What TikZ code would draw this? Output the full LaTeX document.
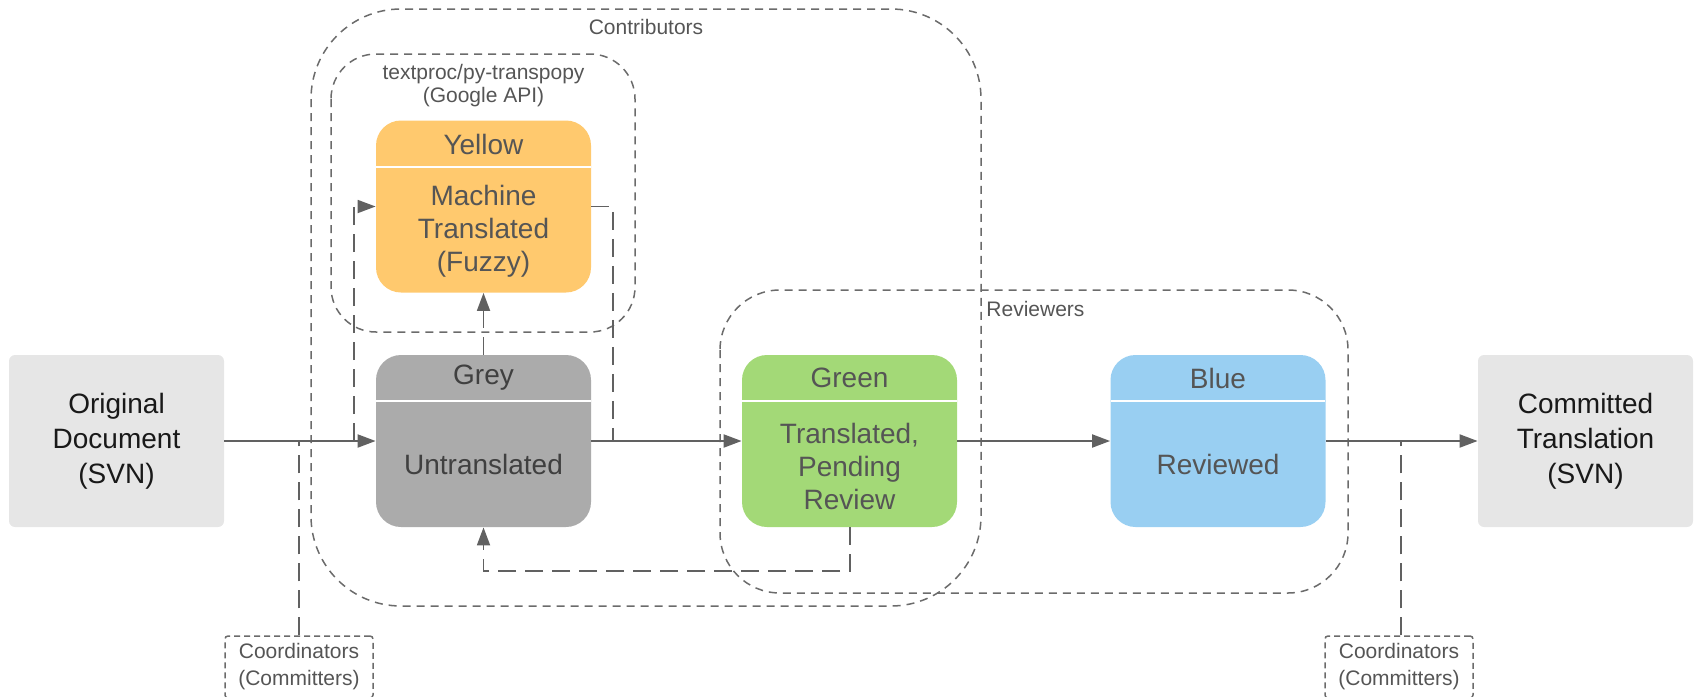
\documentclass[tikz,border=0pt]{standalone}
\usepackage{fontspec}
\setmainfont{Liberation Sans}
\usetikzlibrary{arrows.meta,calc}
\definecolor{lightbox}{HTML}{E6E6E6}
\definecolor{greyfill}{HTML}{ABABAB}
\definecolor{yellowfill}{HTML}{FFC96E}
\definecolor{greenfill}{HTML}{A3D977}
\definecolor{bluefill}{HTML}{99CFF2}
\definecolor{linec}{HTML}{616161}
\definecolor{txt}{HTML}{555555}
\definecolor{dashc}{HTML}{6B6B6B}
\tikzset{
 statebox/.style={rounded corners=12.5pt, minimum width=107.5pt, minimum height=86pt, inner sep=0pt},
 svnbox/.style={fill=lightbox, rounded corners=3pt, minimum width=107.5pt, minimum height=86pt, align=center, inner sep=0pt, font=\fontsize{14}{17.5}\selectfont, text=black!90},
 hdrtext/.style={font=\fontsize{14}{17}\selectfont, text=txt, inner sep=0pt},
 bodytext/.style={font=\fontsize{14}{16.5}\selectfont, text=txt, align=center, inner sep=0pt},
 grouplbl/.style={font=\fontsize{10.5}{11.5}\selectfont, text=txt, align=center, inner sep=0pt},
 coordbox/.style={draw=dashc, line width=0.75pt, dash pattern=on 3pt off 2pt, rounded corners=1.5pt, minimum width=74pt, minimum height=31pt, inner sep=0pt, align=center, text=txt, font=\fontsize{10.5}{13.5}\selectfont},
 groupbox/.style={draw=dashc, line width=0.75pt, dash pattern=on 4pt off 3pt},
 conn/.style={draw=linec, line width=1pt, -{Triangle[length=9pt,width=6.5pt]}},
 dconn/.style={draw=linec, line width=0.9pt, dash pattern=on 9pt off 4.5pt},
 darrow/.style={-{Triangle[length=9pt,width=6.5pt]}},
 hline/.style={draw=white, line width=0.8pt},
}
\begin{document}
\begin{tikzpicture}[x=0.5pt,y=-0.5pt]
\useasboundingbox (0,0) rectangle (1696,696);
% groups
\draw[groupbox, rounded corners=45pt] (311,9) rectangle (981,606);
\draw[groupbox, rounded corners=22.5pt] (331,54) rectangle (635,332);
\draw[groupbox, rounded corners=30pt] (720,290) rectangle (1348,593);
\node[grouplbl] (lcontrib) at (646,27) {Contributors};
\node[grouplbl] (ltextproc) at (483.5,85.5) {textproc/py-transpopy\\(Google API)};
\node[grouplbl, anchor=west] (lreview) at (986,309) {Reviewers};
% svn boxes
\node[svnbox] (orig) at (116.5,441) {Original\\Document\\(SVN)};
\node[svnbox] (commit) at (1585.5,441) {Committed\\Translation\\(SVN)};
% state boxes
\node[statebox, fill=greyfill] (grey) at (483.5,441) {};
\node[statebox, fill=yellowfill] (yellow) at (483.5,206.5) {};
\node[statebox, fill=greenfill] (green) at (849.5,441) {};
\node[statebox, fill=bluefill] (blue) at (1218,441) {};
\draw[hline] (376,401) -- (591,401);
\draw[hline] (376,167) -- (591,167);
\draw[hline] (742,401) -- (957,401);
\draw[hline] (1111,401) -- (1325,401);
\node[hdrtext, text=black!75] (greyh) at (483.5,378) {Grey};
\node[bodytext, text=black!75] (greyb) at (483.5,464) {Untranslated};
\node[hdrtext] (yellowh) at (483.5,144) {Yellow};
\node[bodytext] (yellowb) at (483.5,231) {Machine\\Translated\\(Fuzzy)};
\node[hdrtext] (greenh) at (849.5,378) {Green};
\node[bodytext] (greenb) at (849.5,466) {Translated,\\Pending\\Review};
\node[hdrtext] (blueh) at (1218,378) {Blue};
\node[bodytext] (blueb) at (1218,464) {Reviewed};
% coordinators
\node[coordbox] (coordl) at (299,667) {Coordinators\\(Committers)};
\node[coordbox] (coordr) at (1399,667) {Coordinators\\(Committers)};
% main connectors
\draw[conn] (orig) -- (grey);
\draw[conn] (grey) -- (green);
\draw[conn] (green) -- (blue);
\draw[conn] (blue) -- (commit);
% dashed connectors
\coordinate (b1) at (354,441);
\coordinate (m1) at (613,441);
\coordinate (g1) at (850,527);
\coordinate (g2) at (850,571);
\coordinate (cl) at (299,441);
\coordinate (cr) at (1401,441);
\draw[dconn, darrow] (b1) |- (yellow.west);
\draw[dconn, darrow] (grey.north) -- (yellow.south);
\draw[dconn] (yellow.east) -| (m1);
\draw[dconn, darrow] (g1) -- (g2) -| (grey.south);
\draw[dconn] (coordl.north) -- (cl);
\draw[dconn] (coordr.north -| cr) -- (cr);
\end{tikzpicture}
\end{document}
